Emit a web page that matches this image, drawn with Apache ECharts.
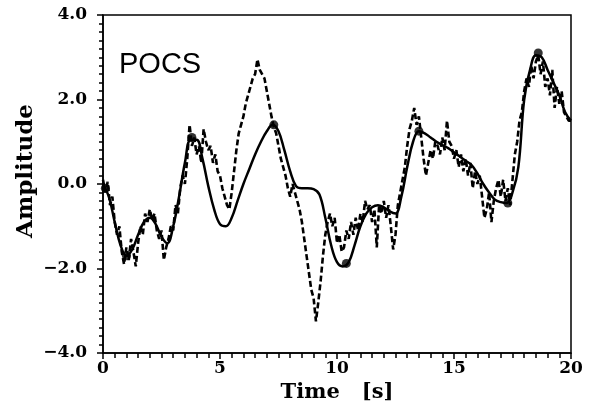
<!DOCTYPE html>
<html><head><meta charset="utf-8">
<script src="https://cdn.jsdelivr.net/npm/echarts@6/dist/echarts.min.js"></script>
<style>html,body{margin:0;padding:0;background:#fff}#c{width:593px;height:410px}</style>
</head><body><div id="c"></div>
<script>
// Smooth solid curve, sampled every 0.25 s
const solidT = [0,0.25,0.5,0.75,1,1.25,1.5,1.75,2,2.25,2.5,2.75,3,3.25,3.5,3.75,4,4.25,4.5,4.75,5,5.25,5.5,5.75,6,6.25,6.5,6.75,7,7.25,7.5,7.75,8,8.25,8.5,8.75,9,9.25,9.5,9.75,10,10.25,10.5,10.75,11,11.25,11.5,11.75,12,12.25,12.5,12.75,13,13.25,13.5,13.75,14,14.25,14.5,14.75,15,15.25,15.5,15.75,16,16.25,16.5,16.75,17,17.25,17.5,17.75,18,18.25,18.5,18.75,19,19.25,19.5,19.75,20];
const solidV = [0.0,-0.3,-0.9,-1.45,-1.7,-1.55,-1.2,-0.9,-0.8,-0.95,-1.25,-1.4,-1.0,-0.3,0.5,1.05,1.05,0.6,-0.05,-0.6,-0.95,-1.0,-0.8,-0.4,0.0,0.35,0.7,1.0,1.25,1.4,1.25,0.8,0.3,-0.05,-0.1,-0.1,-0.12,-0.25,-0.8,-1.45,-1.85,-1.95,-1.85,-1.45,-1.0,-0.7,-0.55,-0.5,-0.55,-0.65,-0.7,-0.3,0.4,1.0,1.25,1.2,1.1,1.0,0.92,0.85,0.75,0.65,0.55,0.45,0.25,0.0,-0.2,-0.37,-0.43,-0.45,-0.2,0.4,2.0,2.7,3.05,3.0,2.7,2.4,2.1,1.7,1.5];
// Dashed (noisy) curve, sampled every 0.1 s from t = 0 to 20
const dashStep = 0.1;
const dashV = [
 0.1,-0.2,0.05,-0.5,-0.3,-0.9,-1.2,-1.0,-1.6,-1.9,
 -1.5,-1.8,-1.3,-1.6,-1.95,-1.4,-1.0,-1.2,-0.7,-0.9,
 -0.6,-0.85,-0.7,-1.1,-1.3,-1.1,-1.8,-1.5,-1.3,-1.0,
 -1.1,-0.5,-0.7,-0.1,0.2,0.0,0.6,1.4,0.9,1.1,
 0.7,0.9,0.5,1.3,1.0,0.8,0.9,0.5,0.7,0.3,
 0.2,-0.1,-0.3,-0.5,-0.6,-0.2,0.3,0.8,1.2,1.4,
 1.6,1.9,2.1,2.3,2.5,2.6,2.95,2.7,2.6,2.5,
 2.2,1.9,1.6,1.35,1.2,0.9,0.6,0.4,0.2,-0.1,
 -0.3,0.0,-0.2,-0.4,-0.6,-0.9,-1.3,-1.7,-2.1,-2.5,
 -2.7,-3.25,-2.8,-2.3,-1.7,-1.2,-0.9,-0.7,-1.0,-0.8,
 -1.4,-1.2,-1.6,-1.5,-1.1,-1.3,-0.9,-1.2,-0.8,-1.1,
 -0.7,-0.9,-0.4,-0.6,-0.5,-0.9,-0.6,-1.5,-0.5,-0.7,
 -0.4,-0.8,-0.5,-1.0,-1.55,-1.2,-0.5,-0.2,0.1,0.4,
 0.9,1.3,1.5,1.8,1.4,1.6,1.1,0.6,0.2,0.5,
 0.8,0.6,1.0,0.9,0.7,1.1,0.8,1.5,1.0,0.9,
 0.6,0.8,0.4,0.7,0.3,0.6,0.2,0.5,-0.1,0.3,
 0.0,0.2,-0.3,-0.8,-0.6,-0.2,-0.9,-0.4,-0.1,0.1,
 -0.3,0.1,-0.4,-0.1,-0.5,0.1,0.7,1.0,1.5,1.7,
 2.2,2.5,2.3,2.8,2.5,2.9,3.05,2.6,2.9,2.3,
 2.5,2.1,2.7,1.8,2.3,1.9,2.2,1.7,1.6,1.5,
 1.5];
// Sample points (dots)
const sampleT = [0.1,1.0,3.8,7.3,10.4,13.5,17.3,18.6];
const sampleV = [-0.1,-1.7,1.1,1.4,-1.88,1.25,-0.45,3.1];
const yTicks = ['4.0','2.0','0.0','\u22122.0','\u22124.0'];
const xTicks = ['0','5','10','15','20'];
const titleText = 'POCS';
const xName = 'Time   [s]';
const yName = 'Amplitude';

const solid = solidT.map((t,i)=>[t,solidV[i]]);
const dashed = dashV.map((v,i)=>[+(i*dashStep).toFixed(2), v]);
const samples = sampleT.map((t,i)=>[t,sampleV[i]]);

const serif = '"DejaVu Serif", serif';
const chart = echarts.init(document.getElementById('c'));
chart.setOption({
  animation:false,
  backgroundColor:'#fff',
  grid:{left:103,right:22,top:15,bottom:57,show:true,borderColor:'#000',borderWidth:1.5,backgroundColor:'transparent'},
  title:{text:titleText,left:114,top:45,textStyle:{fontFamily:'"Liberation Sans", Arial, sans-serif',fontWeight:'normal',fontSize:29,color:'#000'}},
  graphic:[{type:'text',x:26,y:171,rotation:Math.PI/2,
    style:{text:yName,fontFamily:serif,fontWeight:'bold',fontSize:23,fill:'#000',textAlign:'center',textVerticalAlign:'middle'}}],
  xAxis:{type:'value',min:0,max:20,interval:5,
    name:xName,nameLocation:'middle',nameGap:29,
    nameTextStyle:{fontFamily:serif,fontWeight:'bold',fontSize:21,color:'#000'},
    axisLine:{onZero:false,lineStyle:{color:'#000',width:1.5}},
    axisTick:{show:true,length:6,inside:false,lineStyle:{color:'#000',width:1.5}},
    minorTick:{show:true,splitNumber:10,length:5,lineStyle:{color:'#000',width:1.5}},
    splitLine:{show:false},
    axisLabel:{margin:7,fontFamily:serif,fontWeight:'bold',fontSize:17,color:'#000',
      formatter:v=>xTicks[Math.round(v/5)]}
  },
  yAxis:{type:'value',min:-4,max:4,interval:2,
    axisLine:{onZero:false,lineStyle:{color:'#000',width:1.5}},
    axisTick:{show:true,length:6,lineStyle:{color:'#000',width:1.5}},
    minorTick:{show:true,splitNumber:10,length:4,lineStyle:{color:'#000',width:1.5}},
    splitLine:{show:false},
    axisLabel:{margin:16,fontFamily:serif,fontWeight:'bold',fontSize:17,color:'#000',
      formatter:v=>yTicks[Math.round((4-v)/2)]}
  },
  series:[
    {type:'line',data:solid,smooth:0.4,symbol:'none',lineStyle:{color:'#000',width:2.5},z:3},
    {type:'line',data:dashed,smooth:false,symbol:'none',lineStyle:{color:'#000',width:2.6,type:[6,3]},z:4},
    {type:'scatter',data:samples,symbol:'circle',symbolSize:9,itemStyle:{color:'#000'},z:5}
  ]
});
</script></body></html>
